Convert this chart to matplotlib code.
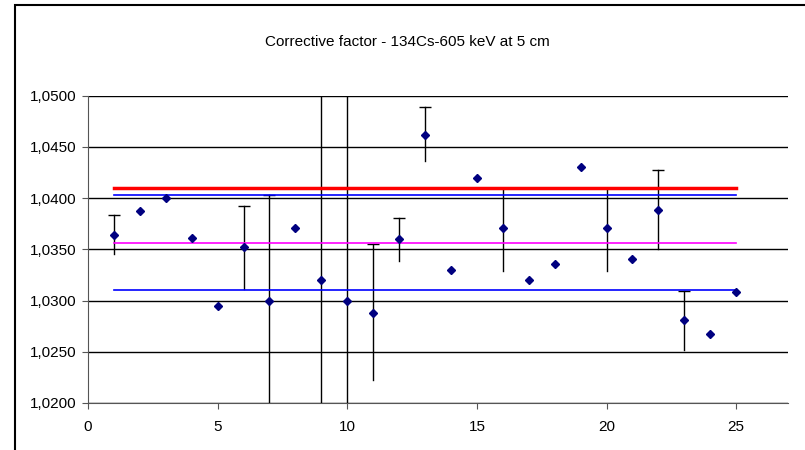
import matplotlib.pyplot as plt
from matplotlib.ticker import FuncFormatter, MultipleLocator
from matplotlib.patches import Rectangle

plt.rcParams['font.family'] = ['Liberation Sans', 'DejaVu Sans']

# measurement number and corrective factor
meas = list(range(1, 26))
factor = [1.0364, 1.0387, 1.0400, 1.0361, 1.0295, 1.0352, 1.0300, 1.0371, 1.0320, 1.0300,
          1.0288, 1.0360, 1.0462, 1.0330, 1.0420, 1.0371, 1.0320, 1.0336, 1.0430, 1.0371,
          1.0341, 1.0388, 1.0281, 1.0267, 1.0308]
# upper / lower error (0 = no error bar)
err_up = [0.0020, 0, 0, 0, 0, 0.0040, 0.0103, 0, 0.0300, 0.0300,
          0.0067, 0.0021, 0.0027, 0, 0, 0.0039, 0, 0, 0, 0.0039,
          0, 0.0039, 0.0028, 0, 0]
err_dn = [0.0019, 0, 0, 0, 0, 0.0041, 0.0300, 0, 0.0300, 0.0300,
          0.0066, 0.0021, 0.0026, 0, 0, 0.0042, 0, 0, 0, 0.0042,
          0, 0.0038, 0.0029, 0, 0]

# reference levels drawn from first to last measurement
ref_levels = [1.0410, 1.04033, 1.03564, 1.03099]
ref_colors = ['#ff0000', '#0000ff', '#ff00ff', '#0000ff']
ref_widths = [2.5, 1.2, 1.2, 1.2]

fig = plt.figure(figsize=(8.05, 4.5), dpi=100)
ax = fig.add_axes([88 / 805, 1 - 403 / 450, 700 / 805, 307.3 / 450])

# outer chart frame
fig.patches.append(Rectangle((15 / 805, -0.1), 1.2, 1 - 5 / 450 + 0.1, transform=fig.transFigure,
                             fill=False, edgecolor='black', linewidth=1.5))

for lev, c, w in zip(ref_levels, ref_colors, ref_widths):
    ax.plot([meas[0], meas[-1]], [lev, lev], color=c, linewidth=w, zorder=3.5)

# error bars: lower part plain, upper part with a cap
for x, y, up, dn in zip(meas, factor, err_up, err_dn):
    if up == 0 and dn == 0:
        continue
    ax.plot([x, x], [y - dn, y + up], color='black', linewidth=1, zorder=3)
    if up < 0.02:
        ax.plot([x], [y + up], marker='_', markersize=8, markeredgewidth=1, color='black', zorder=3)

ax.plot(meas, factor, linestyle='none', marker='D', markersize=4.5, color='#000080', zorder=4)

ax.set_xlim(0, 27)
ax.set_ylim(1.02, 1.05)
ax.xaxis.set_major_locator(MultipleLocator(5))
ax.yaxis.set_major_locator(MultipleLocator(0.005))
ax.yaxis.set_major_formatter(FuncFormatter(lambda v, p: f"{v:.4f}".replace('.', ',')))
ax.set_xticks([0, 5, 10, 15, 20, 25])

ax.grid(axis='y', color='black', linewidth=1)
ax.set_axisbelow(True)
for s in ['top', 'right']:
    ax.spines[s].set_visible(False)
ax.spines['left'].set_color('#555555')
ax.spines['bottom'].set_color('#555555')
ax.tick_params(axis='both', labelsize=11, length=4, color='#555555', pad=4)
ax.tick_params(axis='x', pad=8)

fig.text(407 / 805, 1 - 42 / 450, 'Corrective factor - 134Cs-605 keV at 5 cm',
         ha='center', va='center', fontsize=11)

fig.savefig('out.png', dpi=100)
